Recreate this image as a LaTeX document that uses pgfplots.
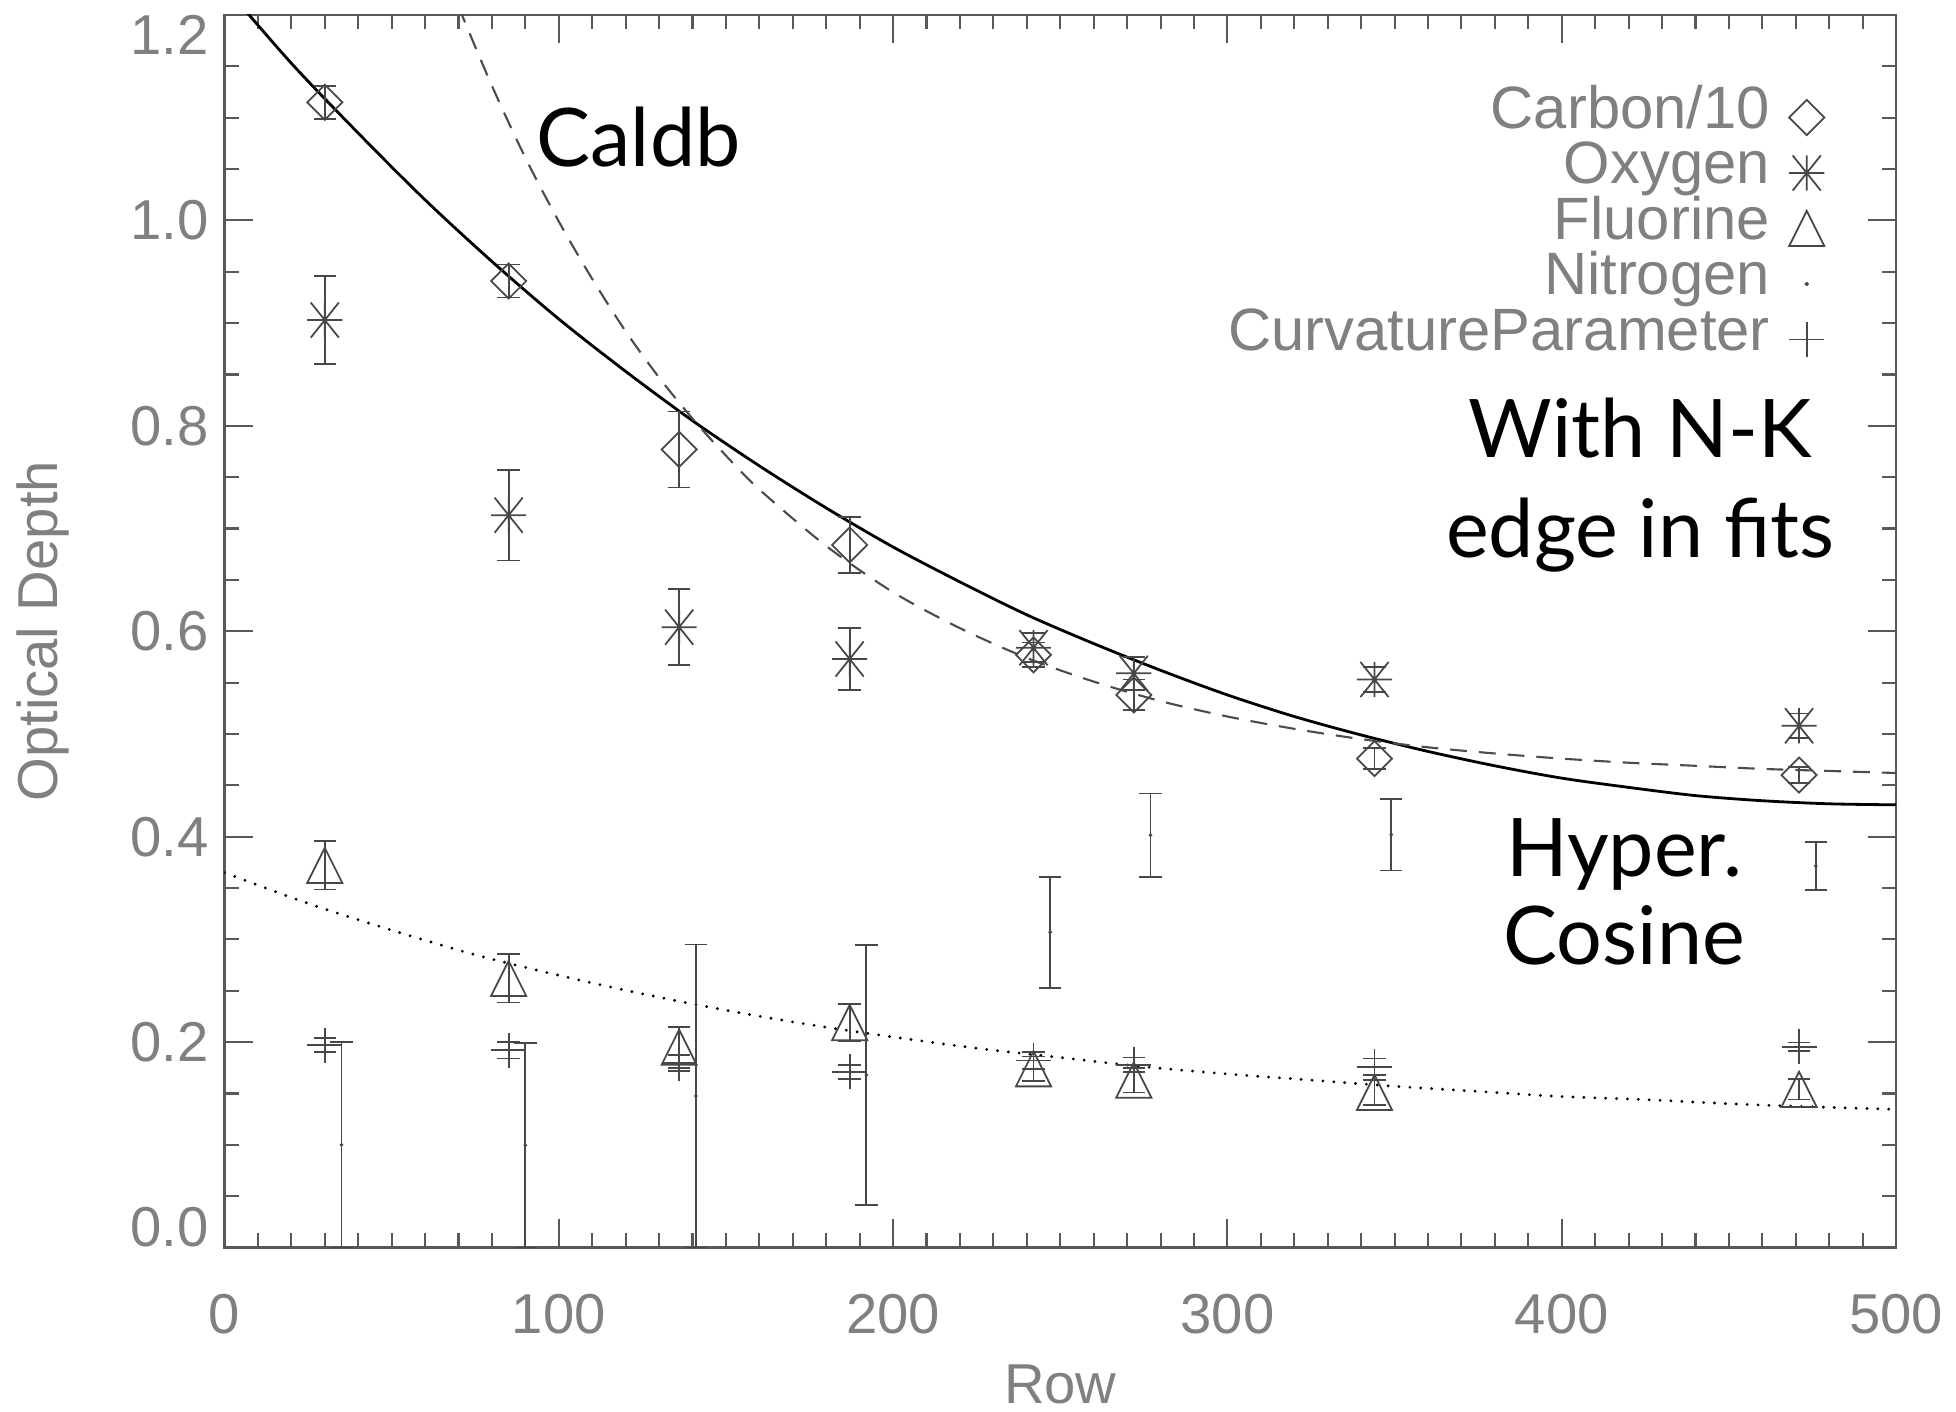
\documentclass[border=0pt]{standalone}
\usepackage{pgfplots}
\pgfplotsset{compat=1.18}
\usepackage{fontspec}
\setmainfont{Liberation Sans}
\newfontfamily\annot{Lato}
\usetikzlibrary{plotmarks}

\definecolor{mk}{gray}{0.28}
\definecolor{ax}{gray}{0.35}
\definecolor{lbl}{gray}{0.5}

\pgfdeclareplotmark{idldiamond}{%
 \pgfpathmoveto{\pgfqpoint{0pt}{\pgfplotmarksize}}%
 \pgfpathlineto{\pgfqpoint{\pgfplotmarksize}{0pt}}%
 \pgfpathlineto{\pgfqpoint{0pt}{-\pgfplotmarksize}}%
 \pgfpathlineto{\pgfqpoint{-\pgfplotmarksize}{0pt}}%
 \pgfpathclose\pgfusepathqstroke}
\pgfdeclareplotmark{idltri}{%
 \pgfpathmoveto{\pgfqpoint{0pt}{\pgfplotmarksize}}%
 \pgfpathlineto{\pgfqpoint{\pgfplotmarksize}{-\pgfplotmarksize}}%
 \pgfpathlineto{\pgfqpoint{-\pgfplotmarksize}{-\pgfplotmarksize}}%
 \pgfpathclose\pgfusepathqstroke}
\pgfdeclareplotmark{idlstar}{%
 \pgfpathmoveto{\pgfqpoint{0pt}{\pgfplotmarksize}}\pgfpathlineto{\pgfqpoint{0pt}{-\pgfplotmarksize}}%
 \pgfpathmoveto{\pgfqpoint{\pgfplotmarksize}{0pt}}\pgfpathlineto{\pgfqpoint{-\pgfplotmarksize}{0pt}}%
 \pgfpathmoveto{\pgfqpoint{0.8\pgfplotmarksize}{\pgfplotmarksize}}\pgfpathlineto{\pgfqpoint{-0.8\pgfplotmarksize}{-\pgfplotmarksize}}%
 \pgfpathmoveto{\pgfqpoint{-0.8\pgfplotmarksize}{\pgfplotmarksize}}\pgfpathlineto{\pgfqpoint{0.8\pgfplotmarksize}{-\pgfplotmarksize}}%
 \pgfusepathqstroke}

\pgfplotstableread{
x y e
30 1.115 0.016
85 0.941 0.016
136 0.777 0.037
187 0.684 0.027
242 0.577 0.012
272 0.538 0.015
344 0.476 0.010
471 0.460 0.008
}\carbon
\pgfplotstableread{
x y e
30 0.903 0.043
85 0.713 0.044
136 0.604 0.037
187 0.573 0.030
242 0.584 0.014
272 0.559 0.016
344 0.553 0.012
471 0.508 0.012
}\oxygen
\pgfplotstableread{
x y e
30 0.372 0.0235
85 0.262 0.0235
136 0.195 0.020
187 0.219 0.018
242 0.174 0.012
272 0.163 0.012
344 0.151 0.012
471 0.154 0.010
}\fluorine
\pgfplotstableread{
x y e
35 0.100 0.100
90 0.0995 0.0995
141 0.1475 0.1475
192 0.168 0.1265
247 0.307 0.054
277 0.4015 0.0405
349 0.402 0.035
476 0.3715 0.0235
}\nitrogen
\pgfplotstableread{
x y e
30 0.197 0.007
85 0.192 0.008
136 0.1795 0.008
187 0.171 0.007
242 0.182 0.008
272 0.178 0.007
344 0.176 0.008
471 0.1955 0.004
}\curv

\begin{document}
\begin{tikzpicture}
\begin{axis}[
  scale only axis, width=16.715cm, height=12.325cm,
  xmin=0, xmax=500, ymin=0, ymax=1.2,
  xtick={0,100,200,300,400,500}, minor x tick num=9,
  ytick={0,0.2,0.4,0.6,0.8,1.0,1.2}, minor y tick num=3,
  yticklabels={\raisebox{5.7pt}[\height][\depth]{0.0},0.2,0.4,0.6,0.8,1.0,\raisebox{-5.7pt}[\height][\depth]{1.2}},
  tick align=inside,
  major tick length=8pt, minor tick length=4pt,
  axis line style={draw=ax, line width=0.7pt},
  every tick/.style={draw=ax, line width=0.6pt},
  tick label style={font=\fontsize{16}{19}\selectfont, text=lbl},
  /pgf/number format/assume math mode=true,
  xticklabel style={yshift=-9.8pt},
  yticklabel style={xshift=-1pt},
  xlabel={Row}, ylabel={Optical Depth},
  label style={font=\fontsize{16}{19}\selectfont, text=lbl},
  xlabel style={at={(axis description cs:0.5,-0.1112)}, anchor=center},
  ylabel style={at={(axis description cs:-0.1089,0.5)}, anchor=center},
  legend cell align=right, legend plot pos=right,
  legend style={draw=none, fill=none, at={(axis description cs:1,1)}, anchor=north east,
    xshift=-0.71cm, yshift=-0.74cm, inner sep=0pt, column sep=5.5pt, row sep=0pt,
    nodes={inner sep=0pt, text height=11pt, text depth=4.8pt, font=\fontsize{17}{20}\selectfont, text=lbl}},
  error bars/error bar style={draw=mk, line width=0.5pt},
  error bars/error mark options={rotate=90, draw=mk, line width=0.5pt, mark size=3.2pt},
]
\addlegendimage{only marks, mark=idldiamond, mark size=5pt, draw=mk, line width=0.5pt}
\addlegendentry{Carbon/10}
\addlegendimage{only marks, mark=idlstar, mark size=5pt, draw=mk, line width=0.5pt}
\addlegendentry{Oxygen}
\addlegendimage{only marks, mark=idltri, mark size=5pt, draw=mk, line width=0.5pt}
\addlegendentry{Fluorine}
\addlegendimage{only marks, mark=*, mark size=0.4pt, draw=mk, fill=mk}
\addlegendentry{Nitrogen}
\addlegendimage{only marks, mark=+, mark size=5pt, draw=mk, line width=0.5pt}
\addlegendentry{CurvatureParameter}

% Hyperbolic cosine fit (solid)
\addplot[forget plot, black, line width=0.8pt, smooth] coordinates {
(0,1.228)(20,1.153)(40,1.085)(60,1.020)(80,0.960)(100,0.904)(120,0.853)(140,0.805)
(160,0.761)(180,0.720)(200,0.682)(220,0.648)(240,0.616)(260,0.588)(280,0.562)
(300,0.538)(320,0.517)(340,0.499)(360,0.483)(380,0.469)(400,0.457)(420,0.448)
(440,0.440)(460,0.435)(480,0.432)(500,0.431)};
% Caldb (dashed)
\addplot[forget plot, black!70, line width=0.6pt, dash pattern=on 4.8pt off 3.4pt, smooth] coordinates {
(70,1.208)(80,1.131)(90,1.061)(100,0.999)(110,0.943)(120,0.892)(130,0.847)(140,0.807)
(150,0.771)(160,0.738)(180,0.683)(200,0.638)(220,0.603)(240,0.574)(260,0.551)
(280,0.532)(300,0.517)(320,0.505)(340,0.495)(360,0.487)(380,0.481)(400,0.476)
(420,0.472)(440,0.469)(460,0.466)(480,0.464)(500,0.462)};
% dotted fit
\addplot[forget plot, black, line width=0.9pt, line cap=round, dash pattern=on 0pt off 3.1pt, smooth] coordinates {
(0,0.365)(25,0.335)(50,0.309)(75,0.285)(100,0.265)(125,0.247)(150,0.231)(175,0.217)
(200,0.205)(225,0.194)(250,0.185)(275,0.176)(300,0.169)(325,0.163)(350,0.157)
(375,0.152)(400,0.147)(425,0.144)(450,0.140)(475,0.137)(500,0.1345)};

\addplot[forget plot, only marks, mark=idldiamond, mark size=5pt, draw=mk, line width=0.5pt,
  error bars/.cd, y dir=both, y explicit] table[x=x, y=y, y error=e]{\carbon};
\addplot[forget plot, only marks, mark=idlstar, mark size=5pt, draw=mk, line width=0.5pt,
  error bars/.cd, y dir=both, y explicit] table[x=x, y=y, y error=e]{\oxygen};
\addplot[forget plot, only marks, mark=idltri, mark size=5pt, draw=mk, line width=0.5pt,
  error bars/.cd, y dir=both, y explicit] table[x=x, y=y, y error=e]{\fluorine};
\addplot[forget plot, only marks, mark=*, mark size=0.3pt, draw=mk, fill=mk,
  error bars/.cd, y dir=both, y explicit] table[x=x, y=y, y error=e]{\nitrogen};
\addplot[forget plot, only marks, mark=+, mark size=5pt, draw=mk, line width=0.5pt,
  error bars/.cd, y dir=both, y explicit] table[x=x, y=y, y error=e]{\curv};

\node[font=\annot\fontsize{23}{27}\selectfont] at (axis cs:123.9,1.081) {Caldb};
\node[font=\annot\fontsize{23}{28.4}\selectfont, align=center] at (axis cs:423.5,0.742) {With N-K\\edge in fits};
\node[font=\annot\fontsize{23}{25}\selectfont, align=center] at (axis cs:418.7,0.346) {Hyper.\\Cosine};
\end{axis}
\pgfresetboundingbox
\path[use as bounding box] ([shift={(-2.245cm,-1.635cm)}]current axis.south west) rectangle ([shift={(0.6cm,0.15cm)}]current axis.north east);
\end{tikzpicture}
\end{document}
